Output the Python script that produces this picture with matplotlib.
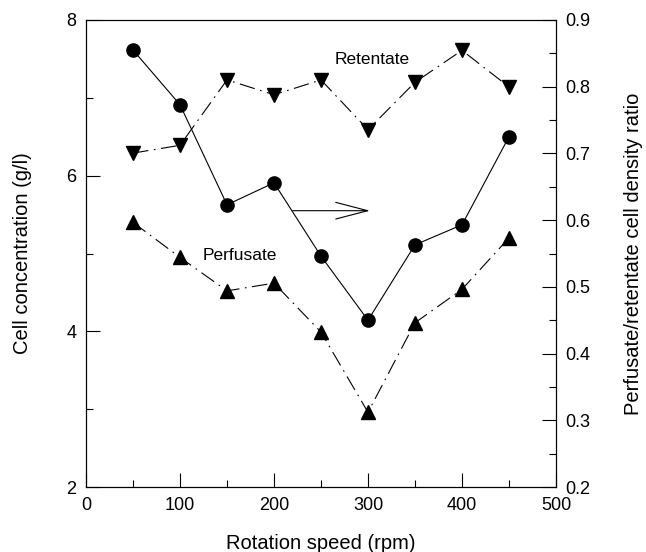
import matplotlib
matplotlib.use("Agg")
import matplotlib.pyplot as plt
from matplotlib.ticker import MultipleLocator

plt.rcParams['font.family'] = ['Liberation Sans', 'DejaVu Sans']

speed = [50, 100, 150, 200, 250, 300, 350, 400, 450]
retentate = [6.29, 6.39, 7.23, 7.04, 7.23, 6.59, 7.20, 7.61, 7.14]
perfusate = [5.40, 4.95, 4.52, 4.62, 3.99, 2.96, 4.11, 4.54, 5.20]
ratio = [0.855, 0.773, 0.623, 0.656, 0.546, 0.450, 0.563, 0.593, 0.725]

fig = plt.figure(figsize=(6.46, 5.52), dpi=100)
ax = fig.add_axes([86/646, 1-487/552, 470/646, 467/552])
ax2 = ax.twinx()

lw = 0.8
ax.plot(speed, retentate, color='black', lw=lw, ls=(0, (14, 5, 1.5, 5)),
        marker='v', ms=10, mfc='black', mec='black')
ax.plot(speed, perfusate, color='black', lw=lw, ls=(0, (14, 5, 1.5, 5)),
        marker='^', ms=10, mfc='black', mec='black')
ax2.plot(speed, ratio, color='black', lw=lw, ls='-',
         marker='o', ms=9.5, mfc='black', mec='black')

ax.set_xlim(0, 500)
ax.set_ylim(2, 8)
ax2.set_ylim(0.2, 0.9)

ax.xaxis.set_major_locator(MultipleLocator(100))
ax.xaxis.set_minor_locator(MultipleLocator(50))
ax.yaxis.set_major_locator(MultipleLocator(2))
ax.yaxis.set_minor_locator(MultipleLocator(1))
ax2.yaxis.set_major_locator(MultipleLocator(0.1))
ax2.yaxis.set_minor_locator(MultipleLocator(0.05))
ax2.yaxis.set_major_formatter(matplotlib.ticker.FormatStrFormatter('%.1f'))

ax.tick_params(axis='both', which='major', direction='in', length=10, width=0.8,
               labelsize=13, pad=7)
ax.tick_params(axis='both', which='minor', direction='in', length=5, width=0.8)
ax.tick_params(axis='y', right=False)
ax.tick_params(axis='x', top=False, which='both')
ax2.tick_params(axis='y', which='major', direction='in', length=10, width=0.8,
                labelsize=13, pad=7)
ax2.tick_params(axis='y', which='minor', direction='in', length=5, width=0.8)

for a in (ax, ax2):
    for s in a.spines.values():
        s.set_linewidth(0.8)

ax.set_xlabel('Rotation speed (rpm)', fontsize=14.5)
ax.set_ylabel('Cell concentration (g/l)', fontsize=14.5)
ax2.set_ylabel('Perfusate/retentate cell density ratio', fontsize=14.5, rotation=90)
ax.xaxis.set_label_coords(0.5, -0.10)
ax.yaxis.set_label_coords(-0.115, 0.5)
ax2.yaxis.set_label_coords(1.145, 0.5)

ax.text(265, 7.49, 'Retentate', fontsize=12.5, ha='left', va='center')
ax.text(124.5, 4.97, 'Perfusate', fontsize=12.5, ha='left', va='center')

ax.annotate('', xy=(302, 5.55), xytext=(220, 5.55),
            arrowprops=dict(arrowstyle='->,head_length=2.3,head_width=0.6',
                            lw=0.8, color='black', shrinkA=0, shrinkB=0,
                            mutation_scale=10))

fig.savefig('out.png', dpi=100)
